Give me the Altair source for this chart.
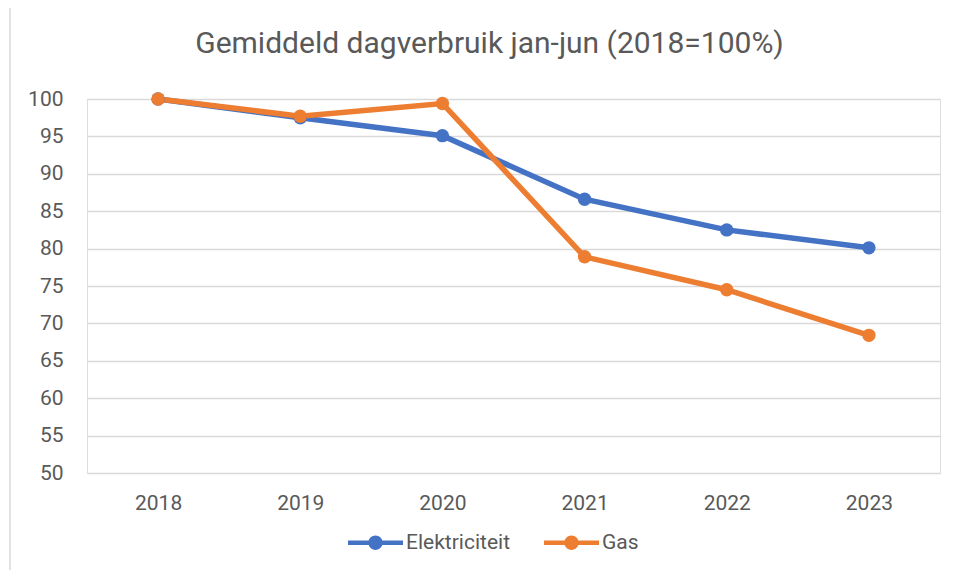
import altair as alt
import pandas as pd

years = ["2018", "2019", "2020", "2021", "2022", "2023"]
elektriciteit = [100, 97.5, 95.1, 86.6, 82.5, 80.1]
gas = [100, 97.7, 99.4, 78.9, 74.5, 68.4]
series = ["Elektriciteit", "Gas"]
colors = ["#4472C4", "#ED7D31"]
y_ticks = list(range(50, 101, 5))

rows = []
for name, vals in zip(series, [elektriciteit, gas]):
    for yr, v in zip(years, vals):
        rows.append({"jaar": yr, "waarde": v, "reeks": name})
df = pd.DataFrame(rows)

FONT = "Roboto"
GREY = "#595959"

sym = ("M-1,-0.08 L1,-0.08 L1,0.08 L-1,0.08 Z "
       "M-0.26,0 A0.26,0.26 0 1,1 0.26,0 A0.26,0.26 0 1,1 -0.26,0 Z")

x = alt.X("jaar:O", title=None, sort=years,
          scale=alt.Scale(padding=0.5),
          axis=alt.Axis(labelAngle=0, ticks=False, domain=False, labelFontSize=21,
                        labelColor=GREY, labelFont=FONT, labelPadding=19, grid=False))
y = alt.Y("waarde:Q", title=None,
          scale=alt.Scale(domain=[50, 100], nice=False, zero=False),
          axis=alt.Axis(values=y_ticks, ticks=False, domain=False, labelFontSize=21,
                        labelColor=GREY, labelFont=FONT, labelPadding=24,
                        gridColor="#d9d9d9", gridWidth=1.5))
color = alt.Color("reeks:N", sort=series,
                  scale=alt.Scale(domain=series, range=colors),
                  legend=alt.Legend(title=None, orient="none", direction="horizontal",
                                    legendX=261, legendY=416,
                                    symbolType=sym, symbolSize=3025,
                                    symbolStrokeWidth=0, labelFontSize=21,
                                    labelColor=GREY, labelFont=FONT,
                                    labelOffset=3, columnPadding=34))

base = alt.Chart(df)
lines = base.mark_line(strokeWidth=5.5).encode(x=x, y=y, color=color)
points = base.mark_point(filled=True, size=180, opacity=1).encode(x=x, y=y, color=color)

border = alt.Chart(alt.Data(values=[{"a": 1}])).mark_rect(
    fill=None, stroke="#d9d9d9", strokeWidth=1.5
).encode(x=alt.value(-77), x2=alt.value(900), y=alt.value(-92), y2=alt.value(520))

chart = alt.layer(border, lines, points).properties(
    width=853, height=374,
    title=alt.TitleParams("Gemiddeld dagverbruik jan-jun (2018=100%)",
                          fontSize=30, font=FONT, color=GREY, fontWeight="normal",
                          anchor="middle", dx=-24, offset=0, dy=77, baseline="alphabetic"),
    autosize=alt.AutoSizeParams(type="none"),
    padding={"left": 79, "top": 91, "right": 9, "bottom": 97},
).configure_view(stroke=None).configure(background="white")

chart.save("out.html", embed_options={"renderer": "svg", "actions": False})
